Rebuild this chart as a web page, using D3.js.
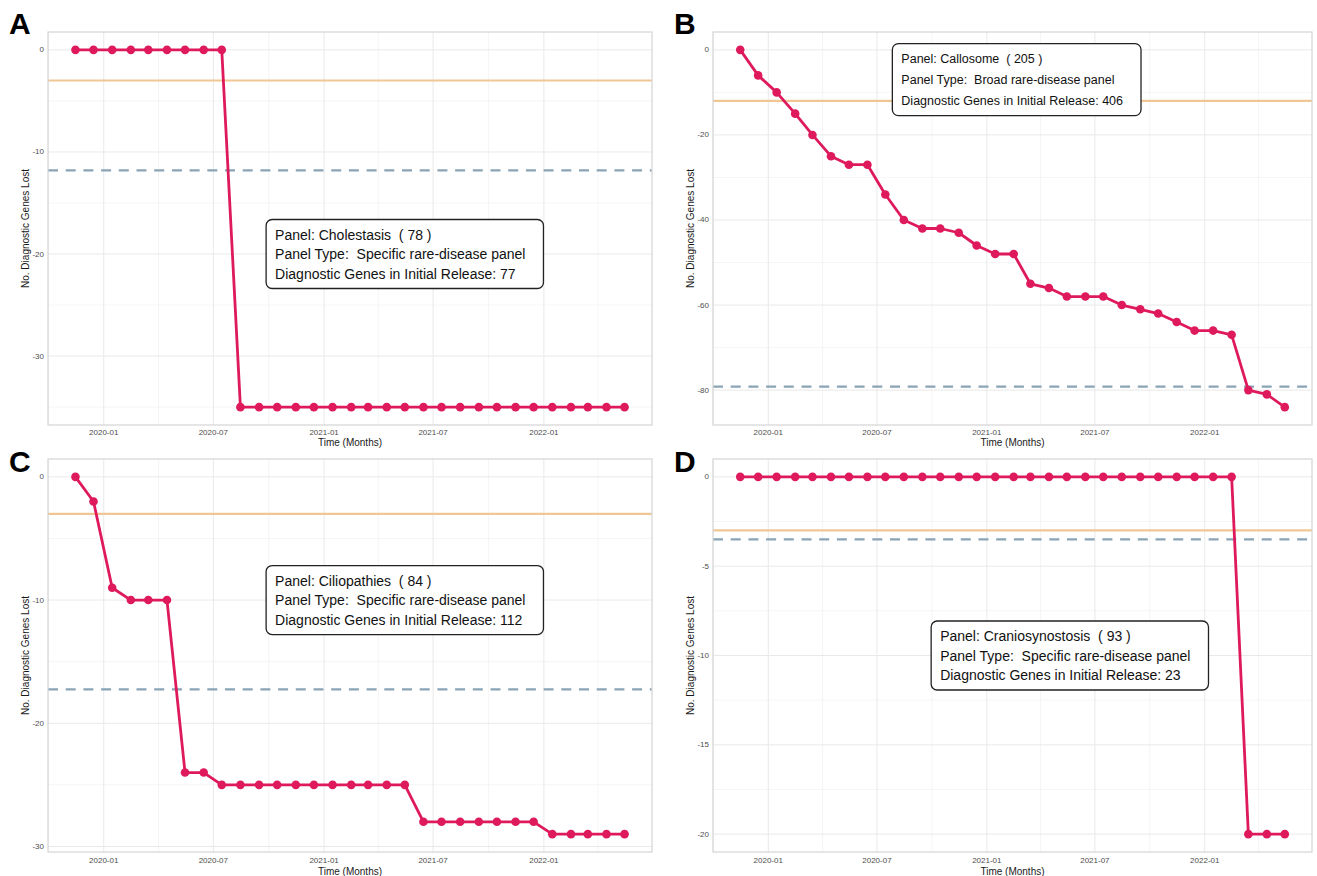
<!DOCTYPE html>
<html>
<head>
<meta charset="utf-8">
<script src="https://cdn.jsdelivr.net/npm/d3@7"></script>
<style>
  body { margin: 0; background: #fff; }
  svg { display: block; font-family: "Liberation Sans", Arial, Helvetica, sans-serif; }
</style>
</head>
<body>
<svg id="fig" width="1317" height="876"></svg>
<script>
// ---- data ----
const months = [
  "2019-11-15", "2019-12-15",
  "2020-01-15", "2020-02-15", "2020-03-15", "2020-04-15", "2020-05-15", "2020-06-15",
  "2020-07-15", "2020-08-15", "2020-09-15", "2020-10-15", "2020-11-15", "2020-12-15",
  "2021-01-15", "2021-02-15", "2021-03-15", "2021-04-15", "2021-05-15", "2021-06-15",
  "2021-07-15", "2021-08-15", "2021-09-15", "2021-10-15", "2021-11-15", "2021-12-15",
  "2022-01-15", "2022-02-15", "2022-03-15", "2022-04-15", "2022-05-15"
];

const lostA = [0, 0, 0, 0, 0, 0, 0, 0, 0,
  -35, -35, -35, -35, -35, -35, -35, -35, -35, -35, -35,
  -35, -35, -35, -35, -35, -35, -35, -35, -35, -35, -35];
const lostB = [0, -6, -10, -15, -20, -25, -27, -27, -34, -40, -42, -42, -43, -46, -48, -48,
  -55, -56, -58, -58, -58, -60, -61, -62, -64, -66, -66, -67, -80, -81, -84];
const lostC = [0, -2, -9, -10, -10, -10, -24, -24,
  -25, -25, -25, -25, -25, -25, -25, -25, -25, -25, -25,
  -28, -28, -28, -28, -28, -28, -28,
  -29, -29, -29, -29, -29];
const lostD = [0, 0, 0, 0, 0, 0, 0, 0, 0, 0, 0, 0, 0, 0, 0, 0, 0, 0, 0, 0, 0, 0, 0, 0, 0, 0, 0, 0,
  -20, -20, -20];

const panelLetters = ["A", "B", "C", "D"];
const panelNames = ["Cholestasis", "Callosome", "Ciliopathies", "Craniosynostosis"];
const panelIds = [78, 205, 84, 93];
const panelTypes = ["Specific rare-disease panel", "Broad rare-disease panel",
  "Specific rare-disease panel", "Specific rare-disease panel"];
const initialGenes = [77, 406, 112, 23];
const solidRef = [-3, -12, -3, -3];
const dashedRef = [-11.8, -79.2, -17.25, -3.5];
const yStep = [10, 20, 10, 5];
const labelDates = ["2021-05-15", "2021-02-20", "2021-05-15", "2021-05-20"];
const labelValues = [-20, -7, -10, -10];
const series = [lostA, lostB, lostC, lostD];

// ---- styles / layout ----
const RED = "#DE1A5C";
const ORANGE = "#F0C794";
const SLATE = "#8BA4B5";
const GRID = "#E9E9E9";
const GRID_MINOR = "#F3F3F3";
const BORDER = "#D4D4D4";

const frames = [
  { x: 48, y: 32, w: 604, h: 393, letterY: 34, tickDy: 7, titleDy: 17, labFs: 14, labGap: 19.5 },
  { x: 713, y: 32, w: 599, h: 393, letterY: 34, tickDy: 7, titleDy: 17, labFs: 12.5, labGap: 21 },
  { x: 48, y: 459, w: 604, h: 393, letterY: 472, tickDy: 8, titleDy: 19, labFs: 14, labGap: 19.5 },
  { x: 713, y: 459, w: 599, h: 393, letterY: 472, tickDy: 8, titleDy: 19, labFs: 14, labGap: 19.5 }
];

const parse = d3.timeParse("%Y-%m-%d");
const dates = months.map(parse);
const fmt = d3.timeFormat("%Y-%m");
const svg = d3.select("#fig");

function expand(lo, hi) {
  const pad = (hi - lo) * 0.05;
  return [lo - pad, hi + pad];
}

series.forEach((vals, i) => {
  const f = frames[i];
  const g = svg.append("g");

  const tExt = d3.extent(dates);
  const tPad = (tExt[1] - tExt[0]) * 0.05;
  const x = d3.scaleTime()
    .domain([new Date(+tExt[0] - tPad), new Date(+tExt[1] + tPad)])
    .range([f.x, f.x + f.w]);
  const yDom = expand(d3.min(vals), d3.max(vals));
  const y = d3.scaleLinear().domain(yDom).range([f.y + f.h, f.y]);

  // gridlines
  const xMajor = x.ticks(d3.timeMonth.every(6));
  const xMinor = x.ticks(d3.timeMonth.every(3)).filter(d => d.getMonth() % 6 !== 0);
  const yMajor = d3.range(Math.ceil(yDom[0] / yStep[i]) * yStep[i], yDom[1] + 1e-9, yStep[i]);
  const yMinor = d3.range(Math.ceil(yDom[0] / (yStep[i] / 2)) * (yStep[i] / 2), yDom[1] + 1e-9, yStep[i] / 2)
    .filter(v => !yMajor.some(m => Math.abs(m - v) < 1e-9));

  g.append("g").selectAll("line").data(xMinor).join("line")
    .attr("x1", d => x(d)).attr("x2", d => x(d)).attr("y1", f.y).attr("y2", f.y + f.h)
    .attr("stroke", GRID_MINOR).attr("stroke-width", 0.8);
  g.append("g").selectAll("line").data(yMinor).join("line")
    .attr("x1", f.x).attr("x2", f.x + f.w).attr("y1", d => y(d)).attr("y2", d => y(d))
    .attr("stroke", GRID_MINOR).attr("stroke-width", 0.8);
  g.append("g").selectAll("line").data(xMajor).join("line")
    .attr("x1", d => x(d)).attr("x2", d => x(d)).attr("y1", f.y).attr("y2", f.y + f.h)
    .attr("stroke", GRID).attr("stroke-width", 1);
  g.append("g").selectAll("line").data(yMajor).join("line")
    .attr("x1", f.x).attr("x2", f.x + f.w).attr("y1", d => y(d)).attr("y2", d => y(d))
    .attr("stroke", GRID).attr("stroke-width", 1);

  // reference lines
  g.append("line")
    .attr("x1", f.x).attr("x2", f.x + f.w)
    .attr("y1", y(solidRef[i])).attr("y2", y(solidRef[i]))
    .attr("stroke", ORANGE).attr("stroke-width", 2.2);
  g.append("line")
    .attr("x1", f.x).attr("x2", f.x + f.w)
    .attr("y1", y(dashedRef[i])).attr("y2", y(dashedRef[i]))
    .attr("stroke", SLATE).attr("stroke-width", 2.2).attr("stroke-dasharray", "10 7.7");

  // series line + points
  const pts = dates.map((d, k) => ({ d, v: vals[k] }));
  g.append("path").datum(pts)
    .attr("fill", "none").attr("stroke", RED).attr("stroke-width", 2.8)
    .attr("stroke-linejoin", "round")
    .attr("d", d3.line().x(p => x(p.d)).y(p => y(p.v)));
  g.append("g").selectAll("circle").data(pts).join("circle")
    .attr("cx", p => x(p.d)).attr("cy", p => y(p.v)).attr("r", 4.3)
    .attr("fill", RED);

  // panel border
  g.append("rect")
    .attr("x", f.x).attr("y", f.y).attr("width", f.w).attr("height", f.h)
    .attr("fill", "none").attr("stroke", BORDER).attr("stroke-width", 1.2);

  // tick labels
  g.append("g").selectAll("text").data(xMajor).join("text")
    .attr("x", d => x(d)).attr("y", f.y + f.h + f.tickDy)
    .attr("text-anchor", "middle").attr("dominant-baseline", "central")
    .attr("font-size", 8).attr("fill", "#4D4D4D")
    .text(fmt);
  g.append("g").selectAll("text").data(yMajor).join("text")
    .attr("x", f.x - 4).attr("y", d => y(d))
    .attr("text-anchor", "end").attr("dominant-baseline", "central")
    .attr("font-size", 8).attr("fill", "#4D4D4D")
    .text(d => d3.format("d")(d).replace("−", "-"));

  // axis titles
  g.append("text")
    .attr("x", f.x + f.w / 2).attr("y", f.y + f.h + f.titleDy)
    .attr("text-anchor", "middle").attr("dominant-baseline", "central")
    .attr("font-size", 10).attr("fill", "#1a1a1a")
    .text("Time (Months)");
  g.append("text")
    .attr("transform", `translate(${f.x - 23},${f.y + f.h / 2}) rotate(-90)`)
    .attr("text-anchor", "middle").attr("dominant-baseline", "central")
    .attr("font-size", 10).attr("fill", "#1a1a1a")
    .text("No. Diagnostic Genes Lost");

  // panel letter
  svg.append("text")
    .attr("x", f.x - 39).attr("y", f.letterY)
    .attr("font-size", 30).attr("font-weight", "bold").attr("fill", "#000")
    .text(panelLetters[i]);

  // annotation label
  const cx = x(parse(labelDates[i])), cy = y(labelValues[i]);
  const lab = g.append("g");
  const box = lab.append("rect");
  const lines = [
    `Panel: ${panelNames[i]}  ( ${panelIds[i]} )`,
    `Panel Type:  ${panelTypes[i]}`,
    `Diagnostic Genes in Initial Release: ${initialGenes[i]}`
  ];
  const texts = lab.selectAll("text").data(lines).join("text")
    .attr("dominant-baseline", "central")
    .attr("font-size", f.labFs).attr("fill", "#111")
    .attr("y", (d, k) => cy + (k - 1) * f.labGap)
    .style("white-space", "pre")
    .attr("xml:space", "preserve")
    .text(d => d);
  let maxW = 0;
  texts.each(function () { maxW = Math.max(maxW, this.getComputedTextLength()); });
  const bw = maxW + 27, bh = 2 * f.labGap + 30;
  texts.attr("x", cx - bw / 2 + 9);
  box.attr("x", cx - bw / 2).attr("y", cy - bh / 2)
    .attr("width", bw).attr("height", bh).attr("rx", 6)
    .attr("fill", "#fff").attr("stroke", "#222").attr("stroke-width", 1.3);
});
</script>
</body>
</html>
